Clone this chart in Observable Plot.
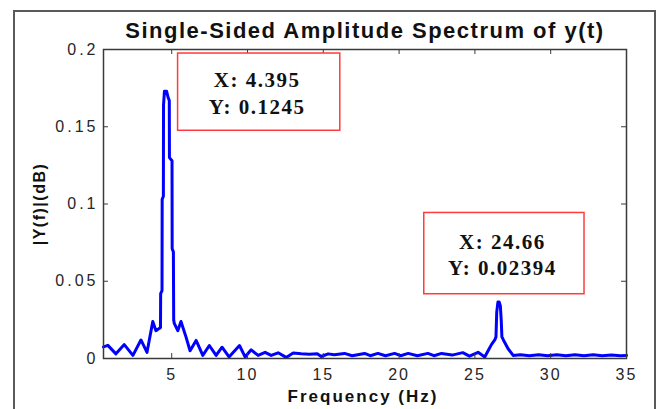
<!DOCTYPE html>
<html><head><meta charset="utf-8">
<script src="https://cdn.jsdelivr.net/npm/d3@7"></script>
<script src="https://cdn.jsdelivr.net/npm/@observablehq/plot@0.6"></script>
<style>
body{margin:0;background:#fff;}
#border{position:absolute;left:13px;top:10px;width:643px;height:430px;border:2px solid #5a5a5a;box-sizing:border-box;}
#chart{position:absolute;left:0;top:0;}
g[aria-label="x-axis tick label"] text{letter-spacing:2px;}
g[aria-label="y-axis tick label"] text{letter-spacing:3px;}
</style></head><body><div id="border"></div><div id="chart"></div>
<script>
// ---- data ----
const freq = [0.50,0.79,1.32,1.87,2.44,2.97,3.37,3.75,3.96,4.18,4.26,4.27,4.36,4.37,4.45,4.46,4.52,4.66,4.76,4.84,4.85,5.02,5.03,5.11,5.13,5.17,5.40,5.61,5.94,6.21,6.61,7.05,7.48,7.93,8.32,8.78,9.47,9.84,10.24,10.70,11.16,11.56,12.02,12.55,13.01,13.54,14.07,14.6,14.86,15.32,15.72,16.4,16.9,17.72,18.1,18.6,19.1,19.7,20.1,20.6,21.2,21.9,22.3,22.8,23.5,24.2,24.64,25.21,25.65,25.87,26.09,26.31,26.39,26.44,26.52,26.60,26.68,26.74,26.78,26.88,27.19,27.52,28.0,28.6,29.2,29.8,30.4,31.0,31.6,32.2,32.8,33.4,34.0,34.6,35.0];
const amp = [0.0075,0.0085,0.003,0.009,0.002,0.012,0.004,0.024,0.018,0.0195,0.020,0.042,0.044,0.103,0.105,0.164,0.173,0.173,0.169,0.167,0.130,0.128,0.071,0.069,0.025,0.0227,0.018,0.024,0.014,0.005,0.0117,0.002,0.0084,0.002,0.0073,0.001,0.0084,0.001,0.0056,0.002,0.004,0.002,0.0037,0.0007,0.0035,0.003,0.0028,0.003,0.0013,0.003,0.0024,0.0033,0.0018,0.0033,0.0018,0.0033,0.0018,0.0033,0.0018,0.0033,0.0018,0.0033,0.0018,0.0033,0.0022,0.0038,0.0015,0.004,0.001,0.005,0.009,0.012,0.014,0.030,0.0366,0.0366,0.034,0.024,0.014,0.012,0.0063,0.002,0.0025,0.0018,0.0025,0.0018,0.0025,0.0018,0.0025,0.0018,0.0025,0.0018,0.0023,0.0018,0.002];
const xTicks = [5,10,15,20,25,30,35];
const yTicks = [0,0.05,0.1,0.15,0.2];
const yTickLabels = ["0","0.05","0.1","0.15","0.2"];
const tipTexts = ["X: 4.395\nY: 0.1245","X: 24.66\nY: 0.02394"];
const titleText = "Single-Sided Amplitude Spectrum of y(t)";
const xLabel = "Frequency (Hz)";
const yLabel = "|Y(f)|(dB)";

// ---- layout of the data-tip boxes (data units) ----
const tipLayout = [
  {x1:5.42, x2:16.12, y1:0.1474, y2:0.1974},
  {x1:21.66, x2:32.23, y1:0.0416, y2:0.0942}
];

const data = freq.map((f,i)=>({f, a: amp[i]}));
const tips = tipLayout.map((b,i)=>({...b, text: tipTexts[i], cx:(b.x1+b.x2)/2, cy:(b.y1+b.y2)/2}));

const W=662, H=409, mL=103, mR=36, mT=49, mB=51;
const plotH = H-mT-mB;
const plotW = W-mL-mR;
const axisColor = "#3a3a3a";

const plot = Plot.plot({
  width: W, height: H,
  marginLeft: mL, marginRight: mR, marginTop: mT, marginBottom: mB,
  style: {fontFamily: "'Liberation Sans', Arial, sans-serif", background: "transparent", overflow: "visible"},
  x: {domain: [0.5, 35]},
  y: {domain: [0, 0.2]},
  marks: [
    Plot.line(data, {x: "f", y: "a", stroke: "#0000ff", strokeWidth: 3, strokeLinejoin: "round"}),
    Plot.frame({stroke: axisColor, strokeWidth: 1.5}),
    Plot.tickX(xTicks.slice(0,-1), {x: d=>d, insetTop: plotH-5, stroke: axisColor}),
    Plot.tickX(xTicks.slice(0,-1), {x: d=>d, insetBottom: plotH-5, stroke: axisColor}),
    Plot.tickY(yTicks.slice(1,-1), {y: d=>d, insetRight: plotW-5, stroke: axisColor}),
    Plot.tickY(yTicks.slice(1,-1), {y: d=>d, insetLeft: plotW-5, stroke: axisColor}),
    Plot.axisX(xTicks, {tickSize: 0, tickPadding: 10, fontSize: 16, fill: "#262626", label: null}),
    Plot.axisY(yTicks, {tickSize: 0, tickPadding: 5, fontSize: 16, fill: "#262626", label: null,
      tickFormat: d => yTickLabels[yTicks.indexOf(d)]}),
    Plot.text([titleText], {frameAnchor: "top", dy: -12, dx: 0, lineAnchor: "bottom", fontSize: 22, fontWeight: "bold", fill: "#111"}),
    Plot.text([xLabel], {frameAnchor: "bottom", dy: 43, dx: -2, lineAnchor: "bottom", fontSize: 17, fontWeight: "bold", fill: "#111"}),
    Plot.text([yLabel], {frameAnchor: "left", dx: -64, rotate: -90, textAnchor: "middle", fontSize: 16, fontWeight: "bold", fill: "#111"}),
    Plot.rect(tips, {x1: "x1", x2: "x2", y1: "y1", y2: "y2", fill: "white", stroke: "#ff3b3b", strokeWidth: 1.5}),
    Plot.text(tips, {x: "cx", y: "cy", text: "text", dx: -2, fontFamily: "'Liberation Serif', 'Times New Roman', serif", fontWeight: "bold", fontSize: 21, lineHeight: 1.25, fill: "#111"})
  ]
});
document.getElementById("chart").appendChild(plot);

// letter spacing tweaks to match the reference's wide glyph spacing
const spacing = new Map([[titleText, 1.5], [xLabel, 2], [yLabel, 1.5]]);
d3.select(plot).selectAll("text").each(function() {
  const t = this.textContent;
  if (spacing.has(t)) this.setAttribute("letter-spacing", spacing.get(t));
  if (/^X: |^Y: /.test(t)) this.setAttribute("letter-spacing", 1.5);
});
</script>
</body></html>
